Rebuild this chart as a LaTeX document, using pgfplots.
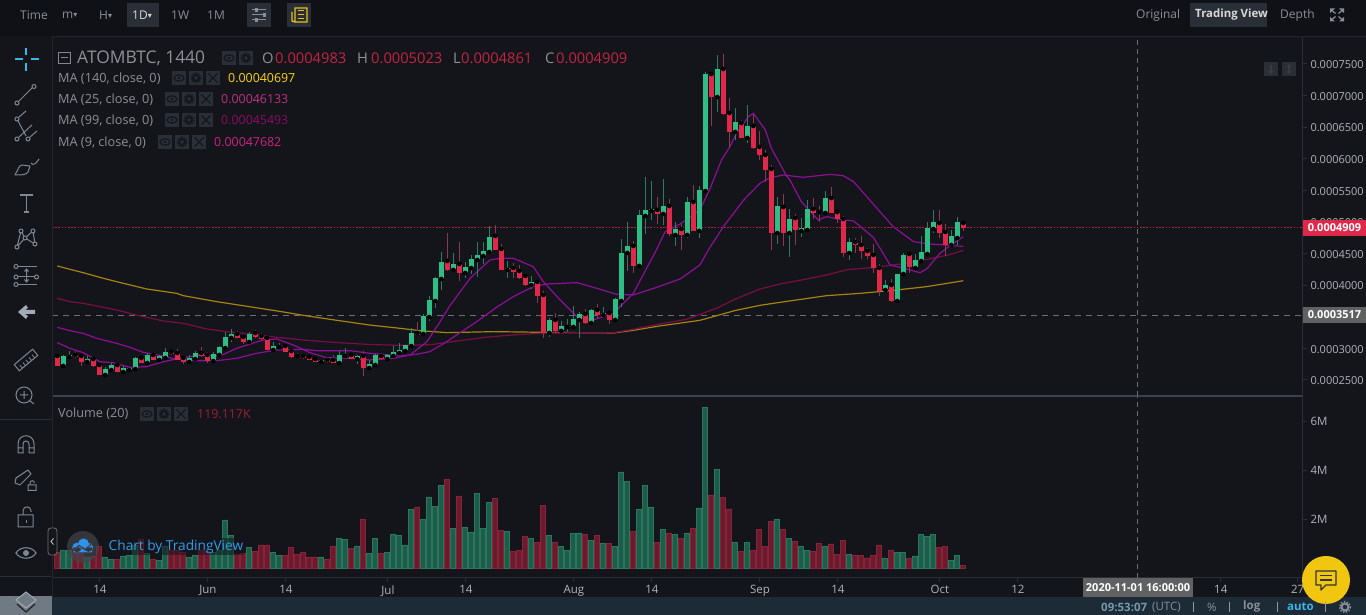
\documentclass[border=0pt]{standalone}
\usepackage{fontspec}
\setmainfont{Open Sans}
\newfontfamily\djv{DejaVu Sans}
\usepackage{pgfplots}
\usepackage{pgfplotstable}
\pgfplotsset{compat=1.18}
\definecolor{bg}{HTML}{13151B}
\definecolor{bar}{HTML}{1C2B36}
\definecolor{sep}{HTML}{2A2E39}
\definecolor{sepb}{HTML}{3C414C}
\definecolor{txt}{HTML}{8E9097}
\definecolor{tick}{HTML}{B0B3BA}
\definecolor{up}{HTML}{2EBD85}
\definecolor{dn}{HTML}{E0294A}
\definecolor{upw}{HTML}{2F7A62}
\definecolor{dnw}{HTML}{8A3A4E}
\definecolor{upf}{HTML}{1E5C49}
\definecolor{upe}{HTML}{29795F}
\definecolor{dnf}{HTML}{671D2D}
\definecolor{dne}{HTML}{8C2139}
\definecolor{gold}{HTML}{A8820F}
\definecolor{crim}{HTML}{7A0D45}
\definecolor{purp}{HTML}{8D0F96}
\definecolor{cross}{HTML}{6C6E73}
\definecolor{iconb}{HTML}{2A2E36}
\definecolor{icong}{HTML}{15171D}
\definecolor{cyan2}{HTML}{3BB6E8}
\definecolor{side}{HTML}{7E8793}
\definecolor{topt}{HTML}{8A8E96}
\definecolor{layerg}{HTML}{6F7A83}

\pgfplotstableread{
i o h l c v
1 2.722 2.896 2.722 2.880 .73
2 2.864 2.959 2.848 2.896 .73
5 2.785 2.885 2.753 2.832 .45
8 2.579 2.706 2.579 2.674 .45
9 2.658 2.769 2.627 2.737 .33
11 2.627 2.722 2.611 2.690 .49
12 2.658 2.706 2.627 2.690 .53
13 2.674 2.864 2.674 2.848 .94
15 2.769 2.927 2.764 2.896 .61
17 2.817 2.896 2.817 2.880 .29
18 2.848 3.006 2.848 2.943 .86
22 2.785 2.896 2.785 2.848 .45
23 2.832 2.959 2.832 2.927 .53
26 2.801 2.943 2.801 2.911 .65
27 2.896 3.038 2.896 3.022 .70
28 3.006 3.259 3.006 3.180 1.96
29 3.165 3.307 3.107 3.228 1.31
32 3.101 3.259 3.101 3.228 .82
36 2.975 3.101 2.975 3.038 .65
37 3.022 3.085 3.006 3.038 .53
44 2.785 2.817 2.769 2.817 .45
47 2.769 2.959 2.769 2.896 1.22
48 2.880 3.006 2.880 2.896 1.18
50 2.832 2.896 2.753 2.880 .90
52 2.690 2.817 2.674 2.753 .61
53 2.737 2.911 2.737 2.896 1.22
55 2.832 2.911 2.832 2.896 .65
56 2.880 3.038 2.880 2.943 1.35
57 2.927 3.085 2.927 2.975 1.31
58 2.959 3.054 2.959 3.054 .94
59 3.038 3.323 3.038 3.244 2.37
61 3.228 3.544 3.212 3.513 2.00
62 3.497 3.829 3.439 3.766 2.90
63 3.750 4.130 3.639 4.114 2.53
64 4.098 4.525 3.924 4.367 3.35
66 4.241 4.510 4.241 4.336 1.63
68 4.193 4.367 4.114 4.288 1.67
69 4.272 4.478 4.177 4.415 1.47
70 4.399 4.684 4.130 4.478 3.06
71 4.462 4.684 4.336 4.541 1.63
72 4.525 4.937 4.525 4.763 2.69
75 4.241 4.383 4.114 4.272 1.51
79 4.003 4.146 3.940 4.051 1.22
82 3.244 3.481 3.181 3.450 1.31
84 3.276 3.434 3.260 3.355 .86
85 3.339 3.466 3.260 3.355 .73
86 3.339 3.671 3.339 3.466 1.39
87 3.450 3.576 3.165 3.545 1.43
89 3.402 3.624 3.386 3.608 1.14
91 3.529 3.655 3.497 3.560 1.02
93 3.450 3.798 3.450 3.782 .86
94 3.750 4.731 3.655 4.510 3.92
95 4.510 5.000 4.225 4.620 3.55
97 4.304 5.190 4.288 5.111 2.41
98 5.095 5.707 4.810 5.190 3.35
99 5.174 5.648 5.032 5.206 2.49
101 5.126 5.680 4.953 5.253 1.59
103 4.794 5.000 4.620 4.889 1.35
105 4.794 5.395 4.747 5.316 1.43
107 4.858 5.569 4.747 5.506 2.45
108 5.490 7.373 5.459 7.341 6.57
110 6.977 7.642 6.740 7.420 4.04
113 6.424 6.803 6.297 6.582 1.06
115 6.329 6.851 6.250 6.519 1.06
120 4.825 5.395 4.651 5.252 2.00
122 4.825 5.205 4.446 5.047 1.22
124 4.857 5.062 4.762 4.904 .90
125 4.873 5.347 4.873 5.205 .73
128 5.142 5.490 5.142 5.379 .86
132 4.509 4.746 4.398 4.683 .57
138 3.924 4.082 3.924 4.003 .37
140 3.750 4.177 3.718 4.177 .65
141 4.177 4.509 4.177 4.477 .65
143 4.272 4.493 4.272 4.398 .49
144 4.382 4.778 4.366 4.525 1.35
145 4.493 4.999 4.493 4.904 1.27
146 4.888 5.189 4.825 4.999 1.35
149 4.635 4.873 4.635 4.778 .29
150 4.746 5.078 4.635 4.999 .53
}\upT

\pgfplotstableread{
i o h l c v
0 2.880 2.906 2.722 2.722 .65
3 2.896 2.959 2.843 2.864 .60
4 2.880 2.896 2.722 2.785 .61
6 2.832 2.848 2.706 2.722 .49
7 2.737 2.748 2.579 2.579 .90
10 2.737 2.753 2.627 2.627 .33
14 2.848 2.880 2.769 2.769 1.18
16 2.896 2.911 2.817 2.817 .33
19 2.943 2.959 2.896 2.911 .73
20 2.927 2.991 2.817 2.817 .73
21 2.848 2.869 2.753 2.785 .65
24 2.927 3.022 2.869 2.880 .73
25 2.896 2.948 2.769 2.801 .67
30 3.228 3.275 3.159 3.165 .57
31 3.180 3.196 3.070 3.101 .61
33 3.244 3.291 3.170 3.180 .69
34 3.196 3.238 3.133 3.149 .94
35 3.165 3.180 2.975 2.975 .94
38 3.038 3.070 2.943 2.943 .53
39 2.959 2.975 2.848 2.864 .82
40 2.880 2.927 2.848 2.864 .57
41 2.880 2.911 2.838 2.848 .65
42 2.864 2.880 2.817 2.817 .45
43 2.832 2.848 2.785 2.785 .45
45 2.817 2.832 2.769 2.785 .33
46 2.817 2.896 2.764 2.769 .86
49 2.896 2.911 2.827 2.832 .78
51 2.880 2.959 2.563 2.690 2.00
54 2.880 2.927 2.817 2.832 .61
60 3.244 3.418 3.212 3.212 2.49
65 4.383 4.826 4.225 4.241 3.63
67 4.336 4.684 4.067 4.193 2.94
73 4.779 4.952 4.557 4.557 2.82
74 4.573 4.652 4.241 4.241 1.55
76 4.272 4.351 4.114 4.209 .69
77 4.225 4.320 4.098 4.114 .73
78 4.146 4.162 3.988 4.003 1.27
80 4.051 4.051 3.719 3.829 1.06
81 3.845 3.908 3.165 3.260 2.57
83 3.450 3.560 3.244 3.276 1.06
88 3.545 3.624 3.386 3.402 1.35
90 3.608 3.703 3.481 3.529 1.31
92 3.560 3.560 3.386 3.450 1.02
96 4.620 4.699 4.193 4.304 1.51
100 5.190 5.395 4.968 5.126 1.06
102 5.253 5.364 4.778 4.810 1.43
104 4.889 4.968 4.557 4.794 1.22
106 5.316 5.585 4.858 4.858 1.63
109 7.341 7.341 6.519 6.977 2.98
111 7.420 7.658 6.693 6.708 2.86
112 6.724 6.961 6.171 6.424 2.41
114 6.566 6.613 6.329 6.329 .69
116 6.519 6.708 6.155 6.171 .73
117 6.186 6.439 5.981 6.060 1.59
118 6.060 6.139 5.633 5.823 .86
119 5.838 5.901 4.556 4.825 1.88
121 5.236 5.442 4.620 4.825 1.59
123 5.062 5.126 4.635 4.873 1.10
126 5.205 5.379 5.047 5.142 .69
127 5.157 5.252 4.999 5.142 1.02
129 5.379 5.553 5.142 5.142 .98
130 5.157 5.173 4.983 5.047 .57
131 5.047 5.094 4.446 4.509 1.14
133 4.683 4.746 4.509 4.635 .53
134 4.635 4.778 4.414 4.540 .53
135 4.540 4.588 4.414 4.461 .41
136 4.477 4.651 4.192 4.272 .53
137 4.272 4.335 3.829 3.908 .94
139 4.003 4.098 3.734 3.750 .73
142 4.493 4.509 4.192 4.287 .37
147 4.983 5.189 4.746 4.825 .82
148 4.841 4.968 4.461 4.635 .86
151 4.983 5.023 4.861 4.909 .12
}\dnT

\newcommand{\chrometext}[4]{\node[anchor=west,inner sep=0pt,text=#4,font=\fontsize{#3}{#3}\selectfont] at #1 {#2};}
% small legend buttons: #1 x, #2 y centre
\newcommand{\eyebtn}[2]{\fill[iconb] (#1-7,#2-7) rectangle (#1+7,#2+7);
  \draw[icong,line width=1.3] (#1,#2) ellipse (5 and 3.2); \fill[icong] (#1,#2) circle (1.3);}
\newcommand{\gearbtn}[2]{\fill[iconb] (#1-7,#2-7) rectangle (#1+7,#2+7);
  \draw[icong,line width=2.2] (#1,#2) circle (3); \draw[icong,line width=1.3,dash pattern=on 1.4 off 1.4] (#1,#2) circle (5);}
\newcommand{\xbtn}[2]{\fill[iconb] (#1-7,#2-7) rectangle (#1+7,#2+7);
  \draw[icong,line width=1.3] (#1-4.5,#2-4.5) -- (#1+4.5,#2+4.5) (#1-4.5,#2+4.5) -- (#1+4.5,#2-4.5);}
\newcommand{\marow}[6]{% y, label, iconx, value, valx, color
  \chrometext{(58,#1+0.5)}{#2}{12.7}{txt}
  \eyebtn{#3}{#1}\gearbtn{#3+17}{#1}\xbtn{#3+34}{#1}
  \chrometext{(#5,#1+0.5)}{#4}{12.4}{#6}}

\begin{document}
\begin{tikzpicture}
\path[use as bounding box] (0,0) rectangle (1366pt,615pt);
\fill[bg] (0,0) rectangle (1366pt,615pt);

% ----- volume pane
\begin{axis}[
  at={(52pt,37pt)},anchor=south west,
  scale only axis,width=1251pt,height=181pt,
  xmin=-0.883,xmax=207.6,ymin=-0.408,ymax=6.98,
  axis x line*=bottom,axis y line*=right,
  axis line style={draw=sep,line width=1pt},
  tick style={draw=sep,line width=1pt},
  major tick length=4pt,tick align=outside,
  xtick={7.1,25.1,38.1,55.1,68.1,86.1,99.1,117.1,130.1,147.1,160.1,193.9,206.7},
  xticklabels={14,Jun,14,Jul,14,Aug,14,Sep,14,Oct,12,14,27},
  x tick label style={font=\fontsize{11.5}{12}\selectfont,text=tick},
  ytick={2,4,6},yticklabels={2M,4M,6M},
  y tick label style={font=\fontsize{11.5}{12}\selectfont,text=tick},
  ybar,bar width=5.1pt,bar shift=0pt,
  clip=true,
]
\addplot[fill=upf,draw=upe,line width=0.9pt,forget plot] table[x=i,y=v]{\upT};
\addplot[fill=dnf,draw=dne,line width=0.9pt,forget plot] table[x=i,y=v]{\dnT};
\addplot[sharp plot,draw=cross,line width=1pt,dash pattern=on 5pt off 4pt,forget plot] coordinates {(180.1,-0.408) (180.1,6.98)};
\end{axis}

% ----- price pane
\begin{axis}[
  at={(52pt,219pt)},anchor=south west,
  scale only axis,width=1251pt,height=359pt,
  xmin=-0.883,xmax=207.6,ymin=2.247,ymax=7.926,
  axis x line*=bottom,axis y line*=right,
  x axis line style={draw=sepb,line width=1.6pt},
  y axis line style={draw=sep,line width=1pt},
  tick style={draw=sep,line width=1pt},
  major tick length=4pt,tick align=outside,
  xtick=\empty,
  ytick={2.5,3,3.5,4,4.5,5,5.5,6,6.5,7,7.5},
  yticklabels={0.0002500,0.0003000,0.0003500,0.0004000,0.0004500,0.0005000,0.0005500,0.0006000,0.0006500,0.0007000,0.0007500},
  y tick label style={font=\fontsize{11}{12}\selectfont,text=tick,yshift=-0.8pt},
  clip=true,
]
\addplot[sharp plot,draw=cross,line width=1pt,dash pattern=on 5pt off 4pt] coordinates {(180.1,2.247) (180.1,7.926)};
\addplot[sharp plot,draw=cross,line width=1pt,dash pattern=on 6pt off 5pt] coordinates {(-0.883,3.517) (207.6,3.517)};
\addplot[sharp plot,draw=dn!80!black,line width=0.9pt,dash pattern=on 1.6pt off 1.6pt] coordinates {(-0.883,4.909) (207.6,4.909)};
% MA 140
\addplot[sharp plot,draw=gold,line width=1.2pt] coordinates {
(0,4.304)(2.1,4.251)(4.3,4.198)(7.7,4.108)(11,4.029)(14.9,3.940)(19.9,3.871)(21,3.834)(26.6,3.739)(32,3.660)(37.7,3.576)(41,3.523)(46.6,3.444)(52,3.370)(57.1,3.318)(60.4,3.281)(64.9,3.249)(72.7,3.265)(80.4,3.255)(92.7,3.244)(96,3.286)(100.4,3.355)(107.1,3.444)(110,3.52)(113,3.60)(117.1,3.681)(120.4,3.728)(128.2,3.834)(133.8,3.871)(139.3,3.918)(144.8,3.976)(151,4.070)};
% MA 99
\addplot[sharp plot,draw=crim,line width=1.2pt] coordinates {
(0,3.792)(2.1,3.739)(4.3,3.713)(6.6,3.671)(9.9,3.607)(13.2,3.528)(17.7,3.433)(21,3.397)(24.9,3.307)(28.2,3.265)(32.1,3.228)(36.6,3.175)(41,3.133)(46,3.096)(51.6,3.064)(56.6,3.049)(61,3.054)(62.7,3.065)(67.1,3.123)(71.4,3.176)(75.8,3.212)(80.4,3.239)(87,3.249)(92.7,3.249)(96,3.302)(100.4,3.386)(104.9,3.460)(107.1,3.539)(110,3.64)(113,3.78)(117.1,3.939)(120.4,4.018)(124.9,4.098)(128.2,4.161)(131.6,4.245)(136.2,4.282)(140.6,4.335)(145,4.409)(148.4,4.477)(151,4.549)};
% MA 25
\addplot[sharp plot,draw=purp,line width=1.2pt] coordinates {
(0,3.333)(2.1,3.281)(4.3,3.238)(6.6,3.159)(9.9,3.080)(12.1,3.017)(14.3,2.938)(17.7,2.880)(19.3,2.838)(22.7,2.806)(26.6,2.806)(29.9,2.843)(33.2,2.922)(36.6,2.975)(41,2.985)(43.2,2.964)(48.8,2.964)(52.1,2.922)(56,2.890)(57.1,2.880)(59.9,2.907)(62.1,2.949)(64.3,3.070)(69.9,3.423)(73.2,3.650)(76,3.819)(79.3,3.977)(81.6,4.019)(84.3,4.030)(86.6,4.040)(89.9,3.951)(93.2,3.856)(96,3.845)(99.9,3.966)(103.8,4.098)(107.1,4.320)(108.5,4.557)(111,4.926)(114.4,5.348)(117.1,5.612)(118.8,5.700)(121,5.743)(124.3,5.706)(128.8,5.753)(131,5.732)(132.7,5.637)(135.4,5.347)(139.3,4.925)(142.7,4.688)(145.4,4.651)(148.2,4.635)(151,4.613)};
% MA 9
\addplot[sharp plot,draw=purp,line width=1.2pt] coordinates {
(0,3.091)(2.1,3.001)(4.3,2.933)(7.1,2.790)(9.3,2.774)(12.1,2.701)(14.9,2.711)(17.7,2.790)(20.4,2.843)(23.8,2.896)(27.1,2.880)(29.9,3.001)(34.3,3.133)(36.6,3.149)(39.3,3.054)(42.1,2.933)(44.9,2.853)(48.8,2.843)(52.1,2.817)(56,2.843)(58.8,2.896)(61.6,3.107)(63.8,3.423)(65.4,3.670)(68.8,4.109)(72.1,4.399)(73.8,4.425)(76,4.425)(79.3,4.293)(81,4.056)(83.8,3.766)(86.6,3.502)(89.3,3.450)(92.7,3.555)(96,3.872)(99.9,4.568)(101.3,4.847)(103.8,4.968)(107.1,5.190)(108.8,5.533)(110.7,5.981)(112.1,6.192)(113.2,6.403)(115.2,6.666)(116,6.719)(118,6.455)(119,6.165)(121.6,5.717)(122.1,5.664)(124,5.321)(126.8,5.031)(128.2,5.084)(130.4,5.041)(132.7,5.015)(136,4.757)(138.8,4.319)(140.4,4.282)(143.8,4.198)(145,4.266)(147.1,4.504)(149.3,4.662)(151,4.768)};
% candles: wicks
\addplot[only marks,mark=none,error bars/.cd,y dir=both,y explicit,error mark=none,error bar style={draw=upw,line width=1pt}]
  table[x=i,y=o,y error plus expr=\thisrow{h}-\thisrow{o},y error minus expr=\thisrow{o}-\thisrow{l}]{\upT};
\addplot[only marks,mark=none,error bars/.cd,y dir=both,y explicit,error mark=none,error bar style={draw=dnw,line width=1pt}]
  table[x=i,y=o,y error plus expr=\thisrow{h}-\thisrow{o},y error minus expr=\thisrow{o}-\thisrow{l}]{\dnT};
% candles: bodies
\addplot[only marks,mark=none,error bars/.cd,y dir=plus,y explicit,error mark=none,error bar style={draw=up,line width=5.2pt}]
  table[x=i,y=o,y error plus expr=\thisrow{c}-\thisrow{o}]{\upT};
\addplot[only marks,mark=none,error bars/.cd,y dir=minus,y explicit,error mark=none,error bar style={draw=dn,line width=5.2pt}]
  table[x=i,y=o,y error minus expr=\thisrow{o}-\thisrow{c}]{\dnT};
\end{axis}

% ----- chrome, in reference pixels
\begin{scope}[x=1pt,y=-1pt,shift={(0pt,615pt)}]
% bars
\fill[bg!80!black] (0,0) rectangle (1366,36);
\draw[sep!60!bg,line width=1] (52,37) -- (1366,37);
\draw[sep!60!bg,line width=1] (52,37) -- (52,597);
\fill[bar] (52,597) rectangle (1366,615);
\fill[layerg] (0,596) rectangle (52,615);
\draw[sep,line width=1] (0,420) -- (52,420) (0,577) -- (52,577);
% price labels
\fill[dn] (1303,220) rectangle (1366,236);
\node[text=white,font=\fontsize{11}{12}\bfseries\selectfont] at (1334.5,228) {0.0004909};
\fill[black!62] (1303,307) rectangle (1366,323);
\node[text=white,font=\fontsize{11}{12}\bfseries\selectfont] at (1334.5,315) {0.0003517};
\fill[black!62] (1083,578) rectangle (1193,597);
\node[text=white,font=\fontsize{11}{12}\bfseries\selectfont] at (1138,588) {2020-11-01 16:00:00};
% top bar
\fill[iconb] (127,3) rectangle (159,27);
\fill[iconb] (247,3) rectangle (271,27);
\fill[iconb] (287,3) rectangle (311,27);
\fill[iconb] (1190,3) rectangle (1267,27);
\chrometext{(20,15)}{Time}{12}{topt}
\chrometext{(62,15)}{m\raisebox{0.5pt}{\djv\fontsize{8}{8}\selectfont▾}}{12}{topt}
\chrometext{(99,15)}{H\raisebox{0.5pt}{\djv\fontsize{8}{8}\selectfont▾}}{12}{topt}
\chrometext{(132,15)}{1D\raisebox{0.5pt}{\djv\fontsize{8}{8}\selectfont▾}}{12}{white!85!black}
\chrometext{(171,15)}{1W}{12}{topt}
\chrometext{(207,15)}{1M}{12}{topt}
\chrometext{(1136,15)}{Original}{12}{topt}
\chrometext{(1195,15)}{\bfseries Trading View}{11.4}{white!85!black}
\chrometext{(1280,15)}{Depth}{12}{topt}
% top icons
\foreach \yy/\xx in {10/256,15/264,20/256}{\draw[topt,line width=1] (252,\yy) -- (266,\yy); \fill[topt] (\xx-1.5,\yy-2) rectangle (\xx+1.5,\yy+2);}
\draw[yellow!70!orange!90!black,line width=1.3] (295,8) rectangle (307,22) (292,12) -- (292,21) -- (295,22);
\foreach \yy in {11,15,19}{\draw[yellow!70!orange!90!black,line width=1] (298,\yy) -- (304,\yy);}
% fullscreen icon
\foreach \sx/\sy in {-1/-1,1/-1,-1/1,1/1}{
  \fill[topt] ({1337+\sx*7},{15+\sy*6.5}) -- ({1337+\sx*2},{15+\sy*6.5}) -- ({1337+\sx*7},{15+\sy*2}) -- cycle;
  \draw[topt,line width=1.2] ({1337+\sx*5},{15+\sy*4.5}) -- ({1337+\sx*1.5},{15+\sy*1.5});}
% price scale buttons
\fill[iconb] (1264,62) rectangle (1278,76); \fill[iconb] (1282,62) rectangle (1296,76);
\draw[icong!70!topt,line width=1.2] (1271,65) -- (1271,73) (1289,65) -- (1289,73);
\draw[icong!70!topt,line width=1] (1268.5,70.5) -- (1271,73.5) -- (1273.5,70.5) (1286.5,67) -- (1289,64.5) -- (1291.5,67) (1286.5,71) -- (1289,73.5) -- (1291.5,71);
% header legend
\draw[side,line width=1] (58.5,52.5) rectangle (70.5,63.5) (61,58) -- (68,58);
\chrometext{(77,58)}{ATOMBTC, 1440}{17.4}{txt}
\eyebtn{229}{58}\gearbtn{246}{58}
\chrometext{(262,58.5)}{O}{14.7}{txt}\chrometext{(275,58.5)}{0.0004983}{14.7}{dn!88!black}
\chrometext{(357,58.5)}{H}{14.7}{txt}\chrometext{(371,58.5)}{0.0005023}{14.7}{dn!88!black}
\chrometext{(453,58.5)}{L}{14.7}{txt}\chrometext{(461,58.5)}{0.0004861}{14.7}{dn!88!black}
\chrometext{(545,58.5)}{C}{14.7}{txt}\chrometext{(556,58.5)}{0.0004909}{14.7}{dn!88!black}
\marow{78}{MA (140, close, 0)}{179}{0.00040697}{228}{yellow!75!orange}
\marow{99}{MA (25, close, 0)}{172}{0.00046133}{221}{magenta!75!black}
\marow{120}{MA (99, close, 0)}{172}{0.00045493}{221}{crim!85!magenta}
\marow{142}{MA (9, close, 0)}{165}{0.00047682}{214}{magenta!85!black}
% Volume legend
\chrometext{(58,414)}{Volume (20)}{12.7}{txt}
\eyebtn{147}{414}\gearbtn{164}{414}\xbtn{181}{414}
\chrometext{(197,414.5)}{119.117K}{12.4}{dn!70!black}
% left tools
\draw[cyan2,line width=1.1] (15,59) -- (23,59) (31,59) -- (39,59) (26,48) -- (26,55) (26,63) -- (26,71);
\draw[side,line width=1] (18.5,101.5) -- (32.5,87.5);
\draw[side,line width=1,fill=bg] (17,103) circle (2) (34,86.5) circle (2);
\draw[side,line width=1] (19,117) -- (26,111) (19,137) -- (32,125) (30,137) -- (37,131) (18,121) -- (26,136);
\draw[side,line width=1,fill=bg] (17,119) circle (2) (17,139) circle (2) (28,139) circle (2);
\draw[side,line width=1,line join=round] (15,175) .. controls (18,170) and (19,165) .. (22,165) -- (30,166) -- (28,172) .. controls (26,175) and (22,175) .. cycle;
\draw[side,line width=1] (31,163) .. controls (33,166) and (36,164) .. (39,159);
\draw[side,line width=1.1] (20,195) -- (33,195) (26.5,195) -- (26.5,212) (24,212) -- (29,212);
\draw[side,line width=1] (17,247) -- (21,231) -- (25,238) -- (33,231) -- (35,244) -- (25,238) -- cycle;
\foreach \a/\b in {17/247,21/231,25/238,33/231,35/244}{\draw[side,line width=1,fill=bg] (\a,\b) circle (2);}
\draw[side,line width=1] (16,266.5) -- (37,266.5) (16,277) -- (37,277) (16,284.5) -- (37,284.5);
\draw[side,line width=1,fill=bg] (16,266.5) circle (2) (16,277) circle (2) (36.5,277) circle (2) (16,284.5) circle (2);
\draw[side,line width=1] (26.5,269) -- (26.5,282) (24.5,271.5) -- (26.5,269) -- (28.5,271.5) (24.5,279.5) -- (26.5,282) -- (28.5,279.5);
\fill[side!70!white] (18,312) -- (26,305) -- (28,308) -- (25,310) -- (35,310) -- (35,314) -- (25,314) -- (28,316) -- (26,319) -- cycle;
\begin{scope}[rotate around={40:(26,360)}]
\draw[side,line width=1] (14,356) rectangle (38,364);
\foreach \u in {18,22,26,30,34}{\draw[side,line width=.8] (\u,360) -- (\u,364);}
\end{scope}
\draw[side,line width=1] (24,395) circle (8) (30,401) -- (34,404) (20,395) -- (28,395) (24,391) -- (24,399);
\draw[side,line width=1] (18,453) -- (18,444) .. controls (18,433) and (34,433) .. (34,444) -- (34,453) -- (29,453) -- (29,444) .. controls (29,440) and (23,440) .. (23,444) -- (23,453) -- cycle (18,448) -- (23,448) (29,448) -- (34,448);
\draw[side,line width=1,line join=round] (15,483) -- (16,478) -- (28,470) -- (31,474) -- (20,485) -- cycle;
\draw[side,line width=1] (28,485) rectangle (36,490.5) (30,485) -- (30,483) .. controls (30,480) and (34.4,480) .. (34.4,483);
\draw[side,line width=1] (18,515) rectangle (33,527) (23,515) -- (23,511) .. controls (23,505.5) and (31,505.5) .. (31,511) -- (31,512);
\fill[side] (25.5,520) rectangle (27,523.5);
\draw[side,line width=1.1] (16,553) .. controls (20,546) and (32,546) .. (36,553) .. controls (32,560) and (20,560) .. cycle;
\fill[side] (26,553) circle (3);
% layers icon
\draw[side!70!white,fill=layerg,line width=1] (16,600) -- (26,592) -- (36,600) -- (26,608) -- cycle;
\draw[black!85,line width=1.3] (17,604) -- (26,612) -- (35,604);
% collapse tab
\draw[sep!70!white,line width=.8,fill=bg,rounded corners=3] (48,528) rectangle (57,555);
\draw[white!75!black,line width=.9] (53.5,538.5) -- (51,541.5) -- (53.5,544.5);
% logo
\fill[white!20!bg,opacity=.7] (83,547) circle (16);
\fill[cyan2!80!blue] (77,547.5) circle (4.8) (83.5,544) circle (5.5) (88.5,547.5) circle (4.5) (73,547.5) rectangle (92,552.5);
\draw[white!20!bg,line width=1.3] (73,551) -- (79,545.5) -- (85,549.5) -- (92,543.5);
\node[anchor=west,inner sep=1.5pt,text=cyan2!85!blue,fill=bg,fill opacity=.55,text opacity=1,rounded corners=2,font=\fontsize{13.7}{14}\selectfont] at (107,546.5) {Chart by TradingView};
% yellow button
\fill[yellow!65!orange!95!black] (1326,580) circle (24);
\draw[black!80,line width=1.4,line join=round] (1316,571) -- (1336,571) -- (1336,585) -- (1326,585) -- (1321,590) -- (1321,585) -- (1316,585) -- cycle;
\draw[black!80,line width=1.3] (1320,575.5) -- (1332,575.5) (1320,580) -- (1332,580);
% bottom bar text
\chrometext{(1101,607)}{\bfseries 09:53:07}{11.5}{topt!75!cyan2}
\chrometext{(1152,607)}{(UTC)}{11.5}{topt}
\draw[sep!50!white,line width=.8] (1193,602) -- (1193,612) (1229,602) -- (1229,612) (1277,602) -- (1277,612) (1325,602) -- (1325,612);
\chrometext{(1207,607)}{\%}{11.5}{topt}
\chrometext{(1243,607)}{\bfseries log}{11.5}{topt}
\chrometext{(1287,607)}{\bfseries auto}{11.5}{cyan2}
\draw[topt,line width=2] (1345,607) circle (3.5);
\draw[topt,line width=1.4,dash pattern=on 1.5 off 1.5] (1345,607) circle (5.5);
\end{scope}
\end{tikzpicture}
\end{document}
